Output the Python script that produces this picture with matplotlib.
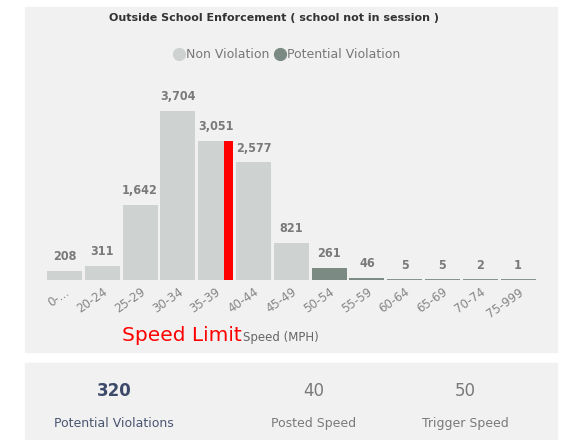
import matplotlib.pyplot as plt
from matplotlib.patches import Rectangle
from matplotlib.lines import Line2D

# Data
speed_bins = ["0-...", "20-24", "25-29", "30-34", "35-39", "40-44", "45-49",
              "50-54", "55-59", "60-64", "65-69", "70-74", "75-999"]
counts = [208, 311, 1642, 3704, 3051, 2577, 821, 261, 46, 5, 5, 2, 1]
is_violation = [False] * 7 + [True] * 6
limit_bin = "35-39"

kpi_values = ["320", "40", "50"]
kpi_labels = ["Potential Violations", "Posted Speed", "Trigger Speed"]

# Colours
LIGHT = "#CED3D1"
DARK = "#7C8A84"
PANEL = "#F1F1F1"
LABEL = "#7A7A7A"

W, H = 563, 440
fig = plt.figure(figsize=(W / 100, H / 100), dpi=100)
fig.patch.set_facecolor("white")


def px(x, y):
    # pixel (from top-left) -> figure fraction
    return x / W, 1 - y / H


# background panels
fig.patches.append(Rectangle((25 / W, 1 - 352 / H), 532 / W, 345 / H,
                             transform=fig.transFigure, color=PANEL, zorder=-5))
fig.patches.append(Rectangle((25 / W, 0), 532 / W, 77 / H,
                             transform=fig.transFigure, color=PANEL, zorder=-5))

# axes: bin i centred at 64.5 + 37.8*i px, baseline at y=280
pitch = 37.8
left = 64.5 - pitch / 2
ax_w = pitch * len(speed_bins)
ax_h = 4400 / 3704 * 169
ax = fig.add_axes([left / W, (H - 280) / H, ax_w / W, ax_h / H])
ax.set_facecolor("none")

x = list(range(len(speed_bins)))
colors = [DARK if v else LIGHT for v in is_violation]
bars = ax.bar(x, counts, width=0.925, color=colors, zorder=2)
for b in bars:
    h = b.get_height()
    if h < 30:
        # tiny bars show as a thin line
        ax.plot([b.get_x(), b.get_x() + b.get_width()], [h, h],
                color=DARK, lw=1.3, solid_capstyle="butt", zorder=3)

for xi, c in zip(x, counts):
    ax.annotate(f"{c:,}", (xi, c), xytext=(0, 5.5), textcoords="offset points",
                ha="center", va="bottom", fontsize=9, fontweight="bold",
                color=LABEL, fontstretch="condensed")

# speed limit marker on the right edge of the 35-39 bin
li = speed_bins.index(limit_bin)
ax.bar(li + 0.34, counts[li], width=0.24, color="#FF0000", zorder=4)

ax.set_xlim(-0.5, len(speed_bins) - 0.5)
ax.set_ylim(0, 4400)
ax.set_yticks([])
ax.set_xticks(x)
ax.set_xticklabels(speed_bins, rotation=35, ha="right", rotation_mode="anchor",
                   fontsize=8.5, color="#858585")
ax.tick_params(axis="x", length=0, pad=4)
for s in ax.spines.values():
    s.set_visible(False)

# title and legend
fig.text(*px(274, 18), "Outside School Enforcement ( school not in session )",
         ha="center", va="center", fontsize=8, fontweight="bold", color="#333333")
handles = [Line2D([], [], ls="", marker="o", ms=8.5, color=LIGHT),
           Line2D([], [], ls="", marker="o", ms=8.5, color=DARK)]
leg = fig.legend(handles, ["Non Violation", "Potential Violation"], loc="center",
                 bbox_to_anchor=px(287, 55), ncol=2, frameon=False,
                 handlelength=0.8, handletextpad=0.15, columnspacing=0.5,
                 fontsize=9)
for t in leg.get_texts():
    t.set_color("#777777")

# axis title and speed limit note
fig.text(*px(243, 337), "Speed (MPH)", ha="left", va="center",
         fontsize=8.5, color="#666666")
fig.text(*px(242, 335), "Speed Limit", ha="right", va="center",
         fontsize=14.5, color="#FF0000")

# KPI cards
kpi_x = [114, 314, 465]
for i, (v, lab) in enumerate(zip(kpi_values, kpi_labels)):
    first = i == 0
    fig.text(*px(kpi_x[i], 391), v, ha="center", va="center", fontsize=12,
             fontweight="bold" if first else "normal",
             color="#3E4A6A" if first else "#7A7A7A")
    fig.text(*px(kpi_x[i], 423), lab, ha="center", va="center", fontsize=9,
             color="#4A5570" if first else "#7A7A7A")

fig.savefig("out.png", dpi=100)
